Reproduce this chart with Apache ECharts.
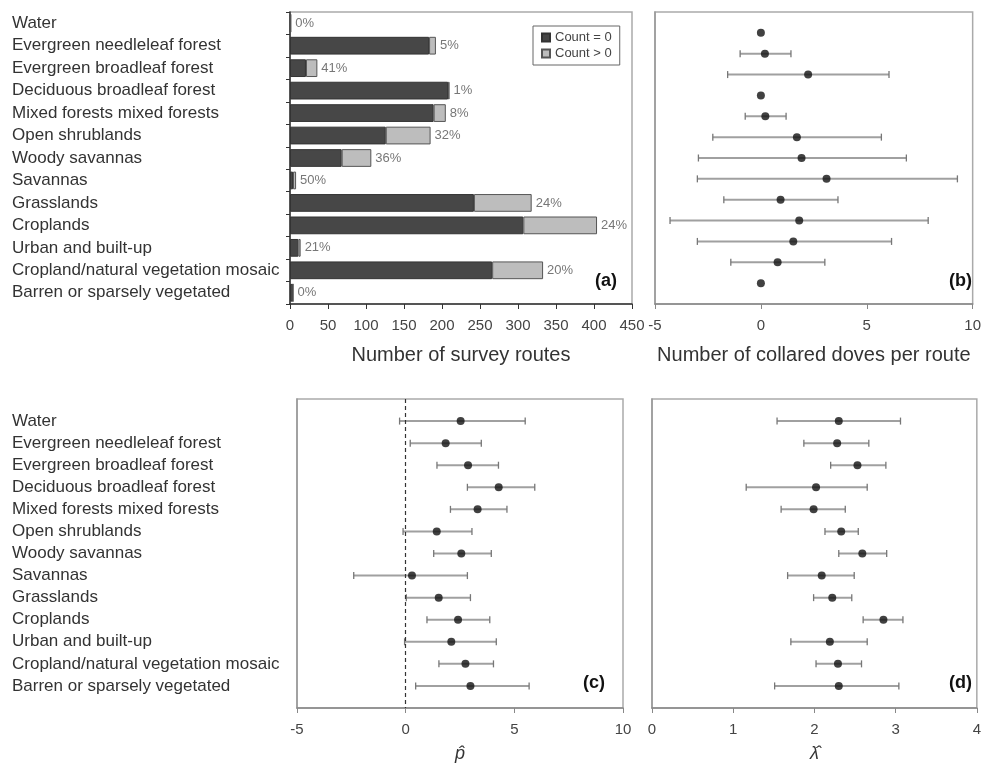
<!DOCTYPE html>
<html><head><meta charset="utf-8">
<script src="https://cdn.jsdelivr.net/npm/echarts@6/dist/echarts.min.js"></script>
<style>html,body{margin:0;padding:0;background:#fff}#c{width:984px;height:764px}</style>
</head><body><div id="c"></div>
<script>
const categories = ['Water','Evergreen needleleaf forest','Evergreen broadleaf forest','Deciduous broadleaf forest','Mixed forests mixed forests','Open shrublands','Woody savannas','Savannas','Grasslands','Croplands','Urban and built-up','Cropland/natural vegetation mosaic','Barren or sparsely vegetated'];
const countZero = [1,183,21,208,189,126,68,4,242,307,11,266,4];
const countPos  = [0,9,15,2,16,59,39,4,76,97,3,67,0];
const pctLabels = ['0%','5%','41%','1%','8%','32%','36%','50%','24%','24%','21%','20%','0%'];
const dovesMean = [0,0.19,2.23,0,0.21,1.70,1.92,3.10,0.93,1.81,1.53,0.79,0];
const dovesLow  = [null,-0.98,-1.57,null,-0.74,-2.27,-2.95,-3.0,-1.75,-4.29,-3.0,-1.42,null];
const dovesHigh = [null,1.42,6.05,null,1.19,5.69,6.87,9.28,3.64,7.9,6.17,3.02,null];
const pMean = [2.53,1.84,2.87,4.28,3.31,1.43,2.56,0.29,1.52,2.41,2.10,2.75,2.98];
const pLow  = [-0.28,0.21,1.44,2.84,2.06,-0.12,1.29,-2.39,0.03,0.98,-0.05,1.53,0.46];
const pHigh = [5.5,3.48,4.27,5.94,4.66,3.05,3.94,2.84,2.98,3.87,4.17,4.04,5.68];
const lMean = [2.30,2.28,2.53,2.02,1.99,2.33,2.59,2.09,2.22,2.85,2.19,2.29,2.30];
const lLow  = [1.54,1.87,2.20,1.16,1.59,2.13,2.30,1.67,1.99,2.60,1.71,2.02,1.51];
const lHigh = [3.06,2.67,2.88,2.65,2.38,2.54,2.89,2.49,2.46,3.09,2.65,2.58,3.04];

const FONT = 'Liberation Sans, Arial, sans-serif';
const chart = echarts.init(document.getElementById('c'), null, {renderer:'canvas'});

function errRender(params, api){
  const y = api.value(0), lo = api.value(1), hi = api.value(2);
  if (lo == null || isNaN(lo)) return null;
  const a = api.coord([lo, y]), b = api.coord([hi, y]);
  const h = 3.5;
  const ls = {stroke:'#a0a0a0', lineWidth:2};
  const cs = {stroke:'#777', lineWidth:1.3};
  return {type:'group', children:[
    {type:'line', shape:{x1:a[0],y1:a[1],x2:b[0],y2:b[1]}, style:ls},
    {type:'line', shape:{x1:a[0],y1:a[1]-h,x2:a[0],y2:a[1]+h}, style:cs},
    {type:'line', shape:{x1:b[0],y1:b[1]-h,x2:b[0],y2:b[1]+h}, style:cs}
  ]};
}
function errData(lo, hi){ return lo.map((v,i)=>[i, v, hi[i]]); }
function ptData(m){ return m.map((v,i)=>[v, i]); }

const tickLabel = {fontFamily:FONT, fontSize:15, color:'#444', margin:14};
const nameStyle = {fontFamily:FONT, fontSize:20, color:'#333'};
function xAxisCfg(idx, min, max, interval, name, nameGap, lineColor, nameExtra){
  return {type:'value', gridIndex:idx, min, max, interval,
    axisLine:{show:true, onZero:false, lineStyle:{color:lineColor, width:1.5}},
    axisTick:{show:true, length:5, lineStyle:{color:lineColor}},
    axisLabel:Object.assign({}, tickLabel),
    splitLine:{show:false},
    name, nameLocation:'middle', nameGap, nameTextStyle:Object.assign({}, nameStyle, nameExtra||{})};
}
function yValCfg(idx, withLabels, margin){
  return {type:'value', gridIndex:idx, min:-1, max:13, interval:1, inverse:true,
    axisLine:{show:true, onZero:false, lineStyle:{color:'#999', width:1.5}},
    axisTick:{show:false}, splitLine:{show:false},
    axisLabel:withLabels ? {show:true, align:'left', margin, fontFamily:FONT, fontSize:17, color:'#333',
      formatter:v=> (categories[v] !== undefined ? categories[v] : '')} : {show:false}};
}

const option = {
  animation:false,
  backgroundColor:'#fff',
  textStyle:{fontFamily:FONT},
  grid:[
    {left:290, top:12, width:342, height:292, show:true, borderColor:'#aaa', borderWidth:1.5},
    {left:655, top:12, width:323, height:292, show:true, borderColor:'#aaa', borderWidth:1.5},
    {left:297, top:399, width:326, height:309, show:true, borderColor:'#aaa', borderWidth:1.5},
    {left:652, top:399, width:326, height:309, show:true, borderColor:'#aaa', borderWidth:1.5}
  ],
  legend:{left:533, top:26, orient:'vertical', itemGap:3, padding:[5,8,5,8],
    borderColor:'#666', borderWidth:1, itemWidth:8, itemHeight:8, icon:'rect',
    textStyle:{fontFamily:FONT, fontSize:13, color:'#444'},
    data:['Count = 0','Count > 0']},
  xAxis:[
    xAxisCfg(0, 0, 450, 50, 'Number of survey routes', 41, '#333'),
    xAxisCfg(1, -5, 10, 5, 'Number of collared doves per route', 41, '#888'),
    xAxisCfg(2, -5, 10, 5, 'p\u0302', 37, '#888', {fontStyle:'italic', fontSize:18}),
    xAxisCfg(3, 0, 4, 1, '\u03bb\u0302', 37, '#888', {fontStyle:'italic', fontSize:18})
  ],
  yAxis:[
    {type:'category', gridIndex:0, data:categories, inverse:true,
      axisLine:{show:true, onZero:false, lineStyle:{color:'#333', width:1.5}},
      axisTick:{show:true, length:4, lineStyle:{color:'#333'}},
      axisLabel:{align:'left', margin:278, fontFamily:FONT, fontSize:17, color:'#333'}},
    yValCfg(1, false),
    yValCfg(2, true, 285),
    yValCfg(3, false)
  ],
  series:[
    {name:'Count = 0', type:'bar', stack:'a', xAxisIndex:0, yAxisIndex:0, data:countZero,
      barCategoryGap:'21%', itemStyle:{color:'#474747', borderColor:'#333', borderWidth:1}},
    {name:'Count > 0', type:'bar', stack:'a', xAxisIndex:0, yAxisIndex:0, data:countPos,
      barCategoryGap:'21%', itemStyle:{color:'#bdbdbd', borderColor:'#555', borderWidth:1},
      label:{show:true, position:'right', distance:4, color:'#777', fontFamily:FONT, fontSize:13,
        formatter:p=>pctLabels[p.dataIndex]}},
    {type:'custom', xAxisIndex:1, yAxisIndex:1, renderItem:errRender, data:errData(dovesLow, dovesHigh), encode:{x:[1,2], y:0}, z:2},
    {type:'scatter', xAxisIndex:1, yAxisIndex:1, data:ptData(dovesMean), symbolSize:8, itemStyle:{color:'#111'}, z:3},
    {type:'custom', xAxisIndex:2, yAxisIndex:2, renderItem:errRender, data:errData(pLow, pHigh), encode:{x:[1,2], y:0}, z:2},
    {type:'scatter', xAxisIndex:2, yAxisIndex:2, data:ptData(pMean), symbolSize:8, itemStyle:{color:'#111'}, z:3,
      markLine:{silent:true, symbol:'none', label:{show:false}, lineStyle:{type:[4,3], color:'#333', width:1.2},
        data:[{xAxis:0}]}},
    {type:'custom', xAxisIndex:3, yAxisIndex:3, renderItem:errRender, data:errData(lLow, lHigh), encode:{x:[1,2], y:0}, z:2},
    {type:'scatter', xAxisIndex:3, yAxisIndex:3, data:ptData(lMean), symbolSize:8, itemStyle:{color:'#111'}, z:3}
  ],
  graphic:[
    {type:'text', right:984-617, top:272, style:{text:'(a)', font:'bold 18px '+FONT, fill:'#111'}},
    {type:'text', right:984-972, top:272, style:{text:'(b)', font:'bold 18px '+FONT, fill:'#111'}},
    {type:'text', right:984-605, top:674, style:{text:'(c)', font:'bold 18px '+FONT, fill:'#111'}},
    {type:'text', right:984-972, top:674, style:{text:'(d)', font:'bold 18px '+FONT, fill:'#111'}}
  ]
};
chart.setOption(option);
</script></body></html>
